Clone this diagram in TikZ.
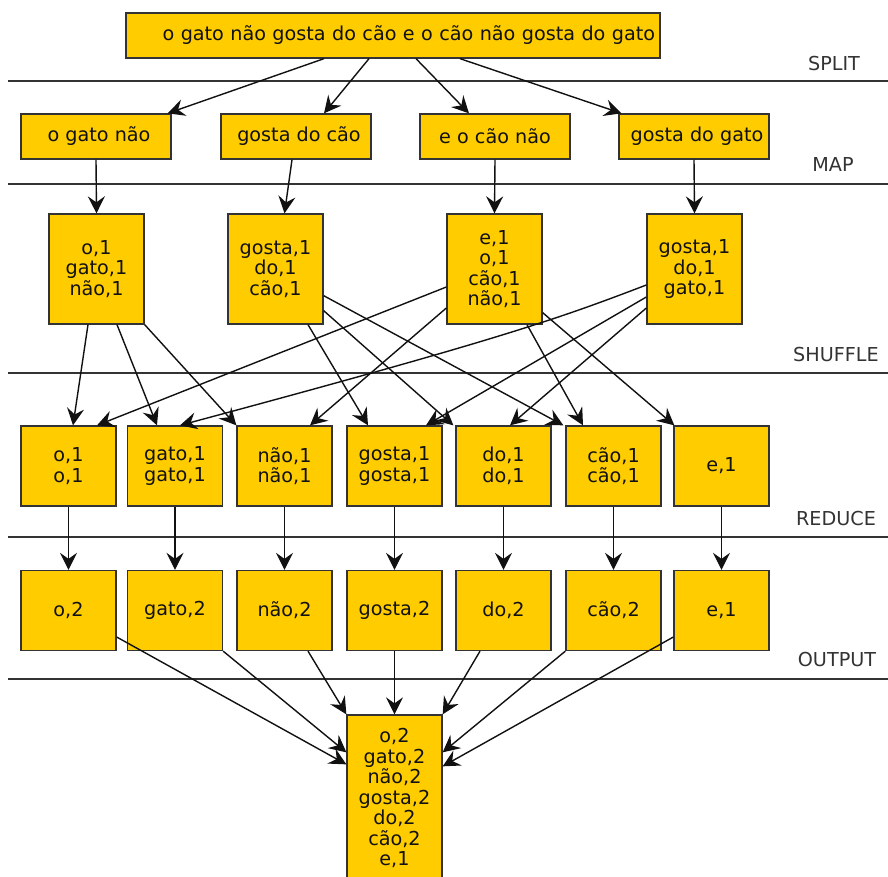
\documentclass[tikz,border=0pt]{standalone}
\usepackage{fontspec}
\setmainfont{DejaVu Sans}
\usetikzlibrary{arrows.meta,calc}
\definecolor{gold}{HTML}{FFCC00}
\definecolor{edgec}{HTML}{333333}
\definecolor{ink}{HTML}{111111}
\begin{document}
\begin{tikzpicture}[x=1pt,y=-1pt,
  box/.style={draw=edgec, fill=gold, line width=1.3pt, inner sep=0pt, align=center,
    font=\fontsize{19.2}{20.5}\selectfont, text=ink},
  wide/.style={box, minimum width=150pt, minimum height=45pt},
  mapbox/.style={box, minimum width=95pt, minimum height=110pt},
  redbox/.style={box, minimum width=95pt, minimum height=80pt},
  lab/.style={font=\fontsize{19.2}{20.5}\selectfont, text=edgec, inner sep=0pt},
  sep/.style={draw=edgec, line width=1.2pt},
  conn/.style={draw=ink, line width=1.4pt, -{Stealth[length=17pt,width=17pt,inset=6pt]}}
]
\useasboundingbox (0,0) rectangle (888,877);

% separators
\draw[sep] (8,81) -- (888,81);
\draw[sep] (8,184) -- (888,184);
\draw[sep] (8,373) -- (888,373);
\draw[sep] (8,537) -- (888,537);
\draw[sep] (8,679) -- (888,679);

\node[lab] (lsplit) at (834,64) {SPLIT};
\node[lab] (lmap) at (833,165) {MAP};
\node[lab] (lshuf) at (836,355) {SHUFFLE};
\node[lab] (lred) at (836,519) {REDUCE};
\node[lab] (lout) at (837,660) {OUTPUT};

% input
\node[box, minimum width=534pt, minimum height=45pt, text width=524pt, align=right] (top) at (393,35.5)
  {o gato não gosta do cão e o cão não gosta do gato};

% split
\node[wide] (s1) at (96,136.5) {\hspace{6pt}o gato não};
\node[wide] (s2) at (296,136.5) {\hspace{6pt}gosta do cão};
\node[wide] (s3) at (495,136.5) {e o cão não};
\node[wide] (s4) at (694,136.5) {\hspace{6pt}gosta do gato};

% map
\node[mapbox] (m1) at (96.5,269) {o,1\\gato,1\\não,1};
\node[mapbox] (m2) at (275.5,269) {gosta,1\\do,1\\cão,1};
\node[mapbox] (m3) at (494.5,269) {e,1\\o,1\\cão,1\\não,1};
\node[mapbox] (m4) at (694.5,269) {gosta,1\\do,1\\gato,1};

% shuffle result
\node[redbox] (r1) at (68.5,466) {o,1\\o,1};
\node[redbox] (r2) at (175,466) {gato,1\\gato,1};
\node[redbox] (r3) at (284.5,466) {não,1\\não,1};
\node[redbox] (r4) at (394.5,466) {gosta,1\\gosta,1};
\node[redbox] (r5) at (503.5,466) {do,1\\do,1};
\node[redbox] (r6) at (613.5,466) {cão,1\\cão,1};
\node[redbox] (r7) at (721.5,466) {e,1};

% reduce result
\node[redbox] (o1) at (68.5,610.5) {o,2};
\node[redbox] (o2) at (175,610.5) {gato,2};
\node[redbox] (o3) at (284.5,610.5) {não,2};
\node[redbox] (o4) at (394.5,610.5) {gosta,2};
\node[redbox] (o5) at (503.5,610.5) {do,2};
\node[redbox] (o6) at (613.5,610.5) {cão,2};
\node[redbox] (o7) at (721.5,610.5) {e,1};

% final
\node[box, minimum width=95pt, minimum height=166pt] (f) at (394.5,798)
  {o,2\\gato,2\\não,2\\gosta,2\\do,2\\cão,2\\e,1};

% input -> split
\draw[conn] ($(top.south)+(-69,0)$) -- ($(s1.north east)+(-4,0)$);
\draw[conn] ($(top.south)+(-24,0)$) -- ($(s2.north)+(28,0)$);
\draw[conn] ($(top.south)+(23,0)$) -- ($(s3.north)+(-26,0)$);
\draw[conn] ($(top.south)+(67,0)$) -- ($(s4.north west)+(3,0)$);

% split -> map
\draw[conn] (s1.south) -- (m1.north);
\draw[conn] ($(s2.south)+(-4,0)$) -- ($(m2.north)+(9,0)$);
\draw[conn] (s3.south) -- (m3.north);
\draw[conn] (s4.south) -- (m4.north);

% map -> shuffle
\draw[conn] ($(m1.south)+(-8.5,0)$) -- ($(r1.north)+(4.5,0)$);
\draw[conn] ($(m1.south)+(20.5,0)$) -- ($(r2.north)+(-18,0)$);
\draw[conn] (m1.south east) -- (r3.north west);

\draw[conn] ($(m2.south)+(32.5,0)$) -- ($(r4.north)+(-26.5,0)$);
\draw[conn] ($(m2.south east)+(0,-14)$) -- ($(r5.north west)+(-2,0)$);
\draw[conn] ($(m2.south east)+(0,-29)$) -- ($(r6.north west)+(-2,0)$);

\draw[conn] ($(m3.west)+(0,18)$) -- ($(r1.north)+(28.5,0)$);
\draw[conn] ($(m3.west)+(0,39)$) -- ($(r3.north)+(25.5,0)$);
\draw[conn] ($(m3.south)+(32.5,0)$) -- ($(r6.north)+(-30.5,0)$);
\draw[conn] ($(m3.south east)+(0,-12)$) -- ($(r7.north west)+(1,0)$);

\draw[conn] ($(m4.west)+(0,16)$) .. controls (560,318) and (505,338) .. ($(r2.north)+(5,0)$);
\draw[conn] ($(m4.west)+(0,28)$) -- ($(r4.north)+(31.5,0)$);
\draw[conn] ($(m4.west)+(0,39)$) -- ($(r5.north)+(6.5,0)$);

% shuffle -> reduce
\foreach \i in {1,...,7} { \draw[conn] (r\i.south) -- (o\i.north); }

% reduce -> final
\draw[conn] ($(o1.east)+(0,26.5)$) -- ($(f.north west)+(0,50)$);
\draw[conn] (o2.south east) -- ($(f.north west)+(0,38)$);
\draw[conn] ($(o3.south)+(23.5,0)$) -- (f.north west);
\draw[conn] (o4.south) -- (f.north);
\draw[conn] ($(o5.south)+(-23.5,0)$) -- (f.north east);
\draw[conn] (o6.south west) -- ($(f.north east)+(0,38)$);
\draw[conn] ($(o7.west)+(0,26.5)$) -- ($(f.north east)+(0,52)$);
\end{tikzpicture}
\end{document}
